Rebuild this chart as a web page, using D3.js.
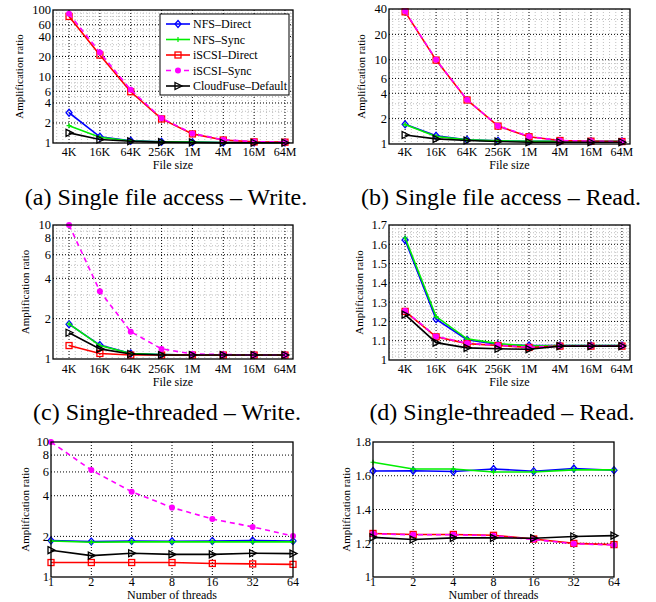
<!DOCTYPE html>
<meta charset="utf-8">
<style>
body { margin: 0; background: #fff; }
text { font-family: "Liberation Serif", "Times New Roman", serif; fill: #000; }
</style>
<script src="https://cdn.jsdelivr.net/npm/d3@7"></script>
<body>
<script>
// categories
const fileSizes = ['4K', '16K', '64K', '256K', '1M', '4M', '16M', '64M'];
const threads = [1, 2, 4, 8, 16, 32, 64];
const seriesNames = ['NFS–Direct', 'NFS–Sync', 'iSCSI–Direct', 'iSCSI–Sync', 'CloudFuse–Default'];

// (a) single file access - write
const aNfsDirect   = [2.85, 1.24, 1.08, 1.04, 1.03, 1.02, 1.02, 1.02];
const aNfsSync     = [1.82, 1.22, 1.07, 1.04, 1.03, 1.02, 1.02, 1.02];
const aIscsiDirect = [80, 21, 5.9, 2.3, 1.37, 1.11, 1.04, 1.03];
const aIscsiSync   = [88, 23, 6.3, 2.35, 1.39, 1.12, 1.05, 1.03];
const aCloudFuse   = [1.42, 1.13, 1.06, 1.03, 1.02, 1.01, 1.01, 1.01];

// (b) single file access - read
const bNfsDirect   = [1.71, 1.25, 1.12, 1.09, 1.08, 1.08, 1.08, 1.08];
const bNfsSync     = [1.70, 1.23, 1.12, 1.09, 1.08, 1.08, 1.08, 1.08];
const bIscsiDirect = [37, 9.9, 3.33, 1.63, 1.22, 1.1, 1.08, 1.07];
const bIscsiSync   = [37.5, 10, 3.35, 1.64, 1.23, 1.1, 1.08, 1.07];
const bCloudFuse   = [1.28, 1.15, 1.1, 1.07, 1.05, 1.05, 1.05, 1.05];

// (c) single-threaded - write
const cNfsDirect   = [1.82, 1.27, 1.1, 1.08, 1.07, 1.07, 1.07, 1.07];
const cNfsSync     = [1.83, 1.26, 1.1, 1.08, 1.07, 1.07, 1.07, 1.07];
const cIscsiDirect = [1.26, 1.1, 1.07, 1.07, 1.07, 1.07, 1.07, 1.07];
const cIscsiSync   = [10, 3.2, 1.6, 1.19, 1.09, 1.08, 1.07, 1.07];
const cCloudFuse   = [1.57, 1.19, 1.09, 1.07, 1.07, 1.07, 1.07, 1.07];

// (d) single-threaded - read
const dNfsDirect   = [1.622, 1.212, 1.105, 1.08, 1.075, 1.075, 1.075, 1.075];
const dNfsSync     = [1.634, 1.225, 1.11, 1.085, 1.072, 1.075, 1.075, 1.075];
const dIscsiDirect = [1.252, 1.12, 1.085, 1.075, 1.065, 1.072, 1.072, 1.072];
const dIscsiSync   = [1.255, 1.122, 1.087, 1.077, 1.066, 1.073, 1.073, 1.073];
const dCloudFuse   = [1.235, 1.09, 1.063, 1.058, 1.056, 1.072, 1.072, 1.072];

// (e) threads - write
const eNfsDirect   = [1.86, 1.83, 1.85, 1.84, 1.85, 1.86, 1.85];
const eNfsSync     = [1.85, 1.81, 1.82, 1.82, 1.82, 1.82, 1.82];
const eIscsiDirect = [1.28, 1.28, 1.28, 1.28, 1.26, 1.25, 1.24];
const eIscsiSync   = [10, 6.2, 4.28, 3.27, 2.69, 2.35, 2.01];
const eCloudFuse   = [1.58, 1.44, 1.5, 1.47, 1.47, 1.5, 1.49];

// (f) threads - read
const fNfsDirect   = [1.628, 1.63, 1.625, 1.64, 1.627, 1.643, 1.633];
const fNfsSync     = [1.68, 1.64, 1.64, 1.622, 1.622, 1.635, 1.635];
const fIscsiDirect = [1.258, 1.252, 1.252, 1.247, 1.225, 1.199, 1.192];
const fIscsiSync   = [1.256, 1.25, 1.25, 1.245, 1.222, 1.197, 1.19];
const fCloudFuse   = [1.235, 1.222, 1.232, 1.232, 1.23, 1.24, 1.245];

// y tick labels
const ticksA = [1, 2, 4, 6, 10, 20, 40, 60, 100];
const ticksB = [1, 2, 4, 6, 10, 20, 40];
const ticksC = [1, 2, 4, 6, 8, 10];
const ticksD = [1, 1.1, 1.2, 1.3, 1.4, 1.5, 1.6, 1.7];
const ticksF = [1, 1.2, 1.4, 1.6, 1.8];

const styles = [
  { color: '#0000ff', marker: 'diamond', dash: null },
  { color: '#00ee00', marker: 'plus', dash: null },
  { color: '#ff0000', marker: 'square', dash: null },
  { color: '#ff00ff', marker: 'dot', dash: '5,4' },
  { color: '#000000', marker: 'triangle', dash: null }
];

const svg = d3.select('body').append('svg')
  .attr('width', 656).attr('height', 602);

function drawMarker(g, type, x, y, color) {
  if (type === 'diamond') {
    g.append('path').attr('d', `M${x},${y - 3.5}L${x + 3},${y}L${x},${y + 3.5}L${x - 3},${y}Z`)
      .attr('fill', 'none').attr('stroke', color).attr('stroke-width', 1.3);
  } else if (type === 'plus') {
    g.append('path').attr('d', `M${x - 2.5},${y}H${x + 2.5}M${x},${y - 2.5}V${y + 2.5}`)
      .attr('stroke', color).attr('stroke-width', 1.2);
  } else if (type === 'square') {
    g.append('rect').attr('x', x - 3).attr('y', y - 3).attr('width', 6).attr('height', 6)
      .attr('fill', 'none').attr('stroke', color).attr('stroke-width', 1.3);
  } else if (type === 'dot') {
    g.append('circle').attr('cx', x).attr('cy', y).attr('r', 3).attr('fill', color);
  } else if (type === 'triangle') {
    g.append('path').attr('d', `M${x - 3},${y - 3.5}L${x + 4},${y}L${x - 3},${y + 3.5}Z`)
      .attr('fill', 'none').attr('stroke', color).attr('stroke-width', 1.3);
  }
}

function panel(cfg) {
  const g = svg.append('g');
  const { left, right, top, bottom } = cfg;

  let x, xTicks, xLabels;
  if (cfg.kind === 'file') {
    x = d3.scaleLinear().domain([0.48, 8.26]).range([left, right]);
    xTicks = fileSizes.map((d, i) => i + 1);
    xLabels = fileSizes;
  } else {
    x = d3.scaleLog().base(2).domain([1, 64]).range([left, right]);
    xTicks = threads;
    xLabels = threads.map(String);
  }
  const y = (cfg.log ? d3.scaleLog() : d3.scaleLinear())
    .domain(cfg.yDomain).range([bottom, top]);

  // minor grid
  if (cfg.minor) {
    const minorY = [];
    if (cfg.log) {
      for (let dec = 1; dec < cfg.yDomain[1]; dec *= 10)
        for (let k = 2; k <= 9; k++) {
          const v = k * dec;
          if (v < cfg.yDomain[1] && !cfg.yTicks.includes(v)) minorY.push(v);
        }
    } else {
      for (let v = cfg.yDomain[0]; v < cfg.yDomain[1] - 1e-9; v += 0.02) {
        if (!cfg.yTicks.some(t => Math.abs(t - v) < 1e-6)) minorY.push(v);
      }
    }
    g.selectAll('.minory').data(minorY).enter().append('line')
      .attr('x1', left).attr('x2', right)
      .attr('y1', d => y(d)).attr('y2', d => y(d))
      .attr('stroke', '#b0b0b0').attr('stroke-width', 0.8).attr('stroke-dasharray', '1,2');
    const minorX = [];
    for (let v = 0.6; v < 8.26; v += 0.2) {
      if (Math.abs(v - Math.round(v)) > 1e-6) minorX.push(v);
    }
    g.selectAll('.minorx').data(minorX).enter().append('line')
      .attr('x1', d => x(d)).attr('x2', d => x(d))
      .attr('y1', top).attr('y2', bottom)
      .attr('stroke', '#b0b0b0').attr('stroke-width', 0.8).attr('stroke-dasharray', '1,2');
  }

  // major grid
  g.selectAll('.gy').data(cfg.yTicks.filter(t => t > cfg.yDomain[0] && t < cfg.yDomain[1]))
    .enter().append('line')
    .attr('x1', left).attr('x2', right)
    .attr('y1', d => y(d)).attr('y2', d => y(d))
    .attr('stroke', '#000').attr('stroke-width', 1).attr('stroke-dasharray', '1,2');
  g.selectAll('.gx').data(xTicks.filter(t => x(t) > left + 1 && x(t) < right - 1))
    .enter().append('line')
    .attr('x1', d => x(d)).attr('x2', d => x(d))
    .attr('y1', top).attr('y2', bottom)
    .attr('stroke', '#000').attr('stroke-width', 1).attr('stroke-dasharray', '1,2');

  // series
  const xs = cfg.kind === 'file' ? xTicks : threads;
  cfg.series.forEach((vals, si) => {
    const st = styles[si];
    const pts = vals.map((v, i) => [x(xs[i]), y(v)]);
    g.append('path')
      .attr('d', d3.line()(pts))
      .attr('fill', 'none').attr('stroke', st.color).attr('stroke-width', 1.6)
      .attr('stroke-dasharray', st.dash);
    pts.forEach(p => drawMarker(g, st.marker, p[0], p[1], st.color));
  });

  // box
  g.append('rect').attr('x', left).attr('y', top)
    .attr('width', right - left).attr('height', bottom - top)
    .attr('fill', 'none').attr('stroke', '#000').attr('stroke-width', 1.3);

  g.selectAll('.yt').data(cfg.yTicks).enter().append('text')
    .attr('x', left - 2).attr('y', d => y(d)).attr('dy', '0.35em')
    .attr('text-anchor', 'end').attr('font-size', 12.5)
    .text(d => d3.format('~g')(d));
  g.selectAll('.xt').data(xTicks).enter().append('text')
    .attr('x', d => x(d)).attr('y', bottom + cfg.xTickGap)
    .attr('text-anchor', 'middle').attr('font-size', 12)
    .text((d, i) => xLabels[i]);

  g.append('text')
    .attr('x', (left + right) / 2).attr('y', bottom + cfg.xLabelGap)
    .attr('text-anchor', 'middle').attr('font-size', 12)
    .text(cfg.kind === 'file' ? 'File size' : 'Number of threads');
  g.append('text')
    .attr('transform', `translate(${cfg.yLabelX},${(top + bottom) / 2}) rotate(-90)`)
    .attr('text-anchor', 'middle').attr('font-size', 11)
    .text('Amplification ratio');

  if (cfg.caption) {
    g.append('text')
      .attr('x', cfg.caption[1]).attr('y', cfg.caption[2])
      .attr('text-anchor', 'middle').attr('font-size', 24)
      .text(cfg.caption[0]);
  }
}

panel({ kind: 'file', left: 53, right: 293, top: 10, bottom: 143, log: true,
  yDomain: [1, 100], yTicks: ticksA, minor: true, xTickGap: 13, xLabelGap: 26, yLabelX: 23,
  series: [aNfsDirect, aNfsSync, aIscsiDirect, aIscsiSync, aCloudFuse],
  caption: ['(a) Single file access – Write.', 166, 205] });

panel({ kind: 'file', left: 389, right: 630, top: 9, bottom: 144, log: true,
  yDomain: [1, 40], yTicks: ticksB, minor: true, xTickGap: 12, xLabelGap: 25, yLabelX: 365,
  series: [bNfsDirect, bNfsSync, bIscsiDirect, bIscsiSync, bCloudFuse],
  caption: ['(b) Single file access – Read.', 501, 205] });

panel({ kind: 'file', left: 53, right: 293, top: 225, bottom: 359, log: true,
  yDomain: [1, 10], yTicks: ticksC, minor: true, xTickGap: 14, xLabelGap: 27, yLabelX: 29,
  series: [cNfsDirect, cNfsSync, cIscsiDirect, cIscsiSync, cCloudFuse],
  caption: ['(c) Single-threaded – Write.', 167, 420] });

panel({ kind: 'file', left: 389, right: 630, top: 225, bottom: 360, log: false,
  yDomain: [1, 1.7], yTicks: ticksD, minor: true, xTickGap: 13, xLabelGap: 26, yLabelX: 363,
  series: [dNfsDirect, dNfsSync, dIscsiDirect, dIscsiSync, dCloudFuse],
  caption: ['(d) Single-threaded – Read.', 502, 420] });

panel({ kind: 'threads', left: 51, right: 293, top: 442, bottom: 577, log: true,
  yDomain: [1, 10], yTicks: ticksC, minor: false, xTickGap: 9, xLabelGap: 22, yLabelX: 29,
  series: [eNfsDirect, eNfsSync, eIscsiDirect, eIscsiSync, eCloudFuse] });

panel({ kind: 'threads', left: 373, right: 614, top: 442, bottom: 577, log: false,
  yDomain: [1, 1.8], yTicks: ticksF, minor: false, xTickGap: 9, xLabelGap: 22, yLabelX: 350,
  series: [fNfsDirect, fNfsSync, fIscsiDirect, fIscsiSync, fCloudFuse] });

// legend in panel (a)
const leg = svg.append('g');
leg.append('rect').attr('x', 160).attr('y', 14).attr('width', 129).attr('height', 81)
  .attr('fill', '#fff').attr('stroke', '#000').attr('stroke-width', 1);
seriesNames.forEach((name, i) => {
  const yy = 24 + i * 15.5;
  const st = styles[i];
  leg.append('line').attr('x1', 166).attr('x2', 190).attr('y1', yy).attr('y2', yy)
    .attr('stroke', st.color).attr('stroke-width', 1.6).attr('stroke-dasharray', st.dash);
  drawMarker(leg, st.marker, 178, yy, st.color);
  leg.append('text').attr('x', 193).attr('y', yy).attr('dy', '0.35em')
    .attr('font-size', 12).text(name);
});
</script>
</body>
</html>
